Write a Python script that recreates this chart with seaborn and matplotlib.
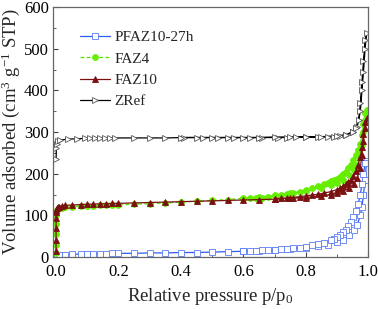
#!/usr/bin/env python3
import numpy as np
import pandas as pd
import seaborn as sns
import matplotlib
matplotlib.use("Agg")
import matplotlib.pyplot as plt
from matplotlib.ticker import MultipleLocator

########################################################## data ##########################################################
samples = ["PFAZ10-27h", "FAZ4", "FAZ10", "ZRef"]

# PFAZ10-27h
pf_ads_p = [0.003, 0.01, 0.03, 0.05, 0.08, 0.1, 0.12, 0.14, 0.16, 0.18, 0.2, 0.25, 0.3, 0.35, 0.4, 0.45, 0.5, 0.55,
            0.6, 0.65, 0.7, 0.75, 0.8, 0.84, 0.87, 0.9, 0.92, 0.94, 0.955, 0.965, 0.975, 0.98, 0.985, 0.99, 0.995]
pf_ads_v = [5, 6, 6, 7, 7, 8, 8, 8, 8, 9, 9, 9, 10, 10, 11, 11, 12, 13,
            14, 15, 17, 19, 22, 26, 30, 36, 42, 52, 64, 78, 100, 120, 150, 185, 230]
pf_des_p = [0.99, 0.985, 0.98, 0.975, 0.968, 0.96, 0.952, 0.944, 0.936, 0.928, 0.92, 0.91, 0.9, 0.89, 0.88,
            0.86, 0.84, 0.82, 0.8, 0.78, 0.76, 0.74, 0.72, 0.7, 0.68, 0.66, 0.64, 0.62, 0.6]
pf_des_v = [225, 200, 175, 150, 128, 110, 96, 84, 74, 66, 60, 53, 48, 44, 40,
            35, 31, 28, 25, 23, 21, 20, 19, 18, 17, 16, 15, 15, 14]

# FAZ4
f4_ads_p = [0.00001, 0.00005, 0.0001, 0.0003, 0.0006, 0.001, 0.002, 0.005, 0.01, 0.02, 0.03, 0.05, 0.08, 0.1, 0.12,
            0.14, 0.16, 0.18, 0.2, 0.25, 0.3, 0.35, 0.4, 0.45, 0.5, 0.55, 0.6, 0.65, 0.7, 0.75, 0.8, 0.85, 0.88,
            0.9, 0.92, 0.94, 0.955, 0.965, 0.975, 0.98, 0.985, 0.99, 0.995]
f4_ads_v = [10, 30, 55, 80, 100, 108, 112, 115, 117, 119, 120, 121, 122, 123, 123,
            124, 124, 125, 125, 127, 128, 130, 132, 134, 136, 138, 141, 144, 148, 153, 158, 166, 172,
            178, 186, 196, 208, 222, 245, 270, 300, 330, 352]
f4_des_p = [0.99, 0.985, 0.98, 0.975, 0.968, 0.96, 0.952, 0.944, 0.936, 0.928, 0.92, 0.91, 0.9, 0.89, 0.88,
            0.87, 0.86, 0.84, 0.82, 0.8, 0.78, 0.76, 0.74, 0.72, 0.7, 0.68, 0.66, 0.64, 0.62, 0.6]
f4_des_v = [345, 320, 292, 272, 258, 244, 232, 222, 213, 205, 199, 193, 188, 185, 182,
            178, 175, 170, 165, 161, 157, 154, 151, 149, 147, 145, 143, 142, 141, 140]

# FAZ10
f10_ads_p = f4_ads_p
f10_ads_v = [15, 40, 70, 95, 108, 114, 118, 120, 121, 123, 124, 125, 126, 127, 127,
             128, 128, 129, 129, 130, 131, 132, 133, 134, 135, 136, 137, 138, 139, 141, 143, 147, 150,
             153, 158, 166, 176, 190, 215, 245, 278, 310, 333]
f10_des_p = [0.99, 0.985, 0.98, 0.975, 0.968, 0.96, 0.952, 0.944, 0.936, 0.928, 0.92, 0.91, 0.9, 0.88, 0.86,
             0.84, 0.82, 0.8, 0.78, 0.76, 0.74, 0.72, 0.7]
f10_des_v = [325, 295, 265, 240, 222, 206, 194, 186, 180, 175, 171, 166, 162, 157, 154,
             151, 149, 147, 145, 143, 142, 141, 140]

# ZRef
zr_ads_p = [0.0002, 0.001, 0.003, 0.006, 0.013, 0.038, 0.067, 0.093, 0.109, 0.125, 0.141, 0.157, 0.173, 0.189,
            0.25, 0.3, 0.35, 0.41, 0.47, 0.52, 0.57, 0.62, 0.66, 0.71, 0.74, 0.77, 0.8, 0.84, 0.87, 0.89, 0.91,
            0.93, 0.95, 0.965, 0.975, 0.98, 0.985, 0.99, 0.995]
zr_ads_v = [236, 262, 272, 278, 281, 283, 284, 285, 285, 285, 286, 286, 286, 286,
            286, 286, 286, 287, 287, 287, 287, 287, 287, 287, 287, 288, 288, 288, 288, 289, 290,
            292, 300, 313, 350, 400, 445, 500, 538]
zr_des_p = [0.99, 0.985, 0.98, 0.975, 0.97, 0.96, 0.95, 0.93, 0.9, 0.85, 0.8, 0.75, 0.7, 0.65, 0.6, 0.55, 0.5,
            0.45, 0.4]
zr_des_v = [520, 470, 420, 370, 330, 310, 301, 294, 291, 289, 288, 288, 288, 287, 287, 287, 287,
            287, 287]

########################################################## plot ##########################################################
def branch_frame(name, ads_p, ads_v, des_p, des_v):
	return pd.DataFrame({"sample": name,
		"p": list(ads_p) + list(des_p),
		"V": list(ads_v) + list(des_v)})

df = pd.concat([
	branch_frame("PFAZ10-27h", pf_ads_p, pf_ads_v, pf_des_p, pf_des_v),
	branch_frame("FAZ4", f4_ads_p, f4_ads_v, f4_des_p, f4_des_v),
	branch_frame("FAZ10", f10_ads_p, f10_ads_v, f10_des_p, f10_des_v),
	branch_frame("ZRef", zr_ads_p, zr_ads_v, zr_des_p, zr_des_v),
], ignore_index=True)

styles = {
	"PFAZ10-27h": dict(color="#2f5cf0", marker="s", mfc="white", mec="#5b7cf5", ls="-"),
	"FAZ4": dict(color="#55e000", marker="o", mfc="#66ee00", mec="#66ee00", ls=(0, (3, 2))),
	"FAZ10": dict(color="#7a1010", marker="^", mfc="#7a1010", mec="#7a1010", ls="-"),
	"ZRef": dict(color="black", marker=">", mfc="white", mec="#555555", ls="-"),
}

sns.set_style("ticks")
plt.rcParams["font.family"] = ["Liberation Serif", "DejaVu Serif"]
plt.rcParams["mathtext.fontset"] = "custom"
plt.rcParams["mathtext.rm"] = "Liberation Serif"
plt.rcParams["mathtext.it"] = "Liberation Serif:italic"

fig = plt.figure(figsize=(3.78, 3.09), dpi=100)
ax = fig.add_axes([0.140, 0.168, 0.834, 0.809])

for name in samples:
	st = styles[name]
	sub = df[df["sample"] == name]
	sns.lineplot(data=sub, x="p", y="V", ax=ax, sort=False, estimator=None,
		color=st["color"], linestyle=st["ls"], linewidth=0.9,
		marker=st["marker"], markersize=4.2, markerfacecolor=st["mfc"],
		markeredgecolor=st["mec"], markeredgewidth=0.6, label=name)

ax.set_xlim(-0.01, 1.0)
ax.set_ylim(0, 600)
ax.xaxis.set_major_locator(MultipleLocator(0.2))
ax.xaxis.set_minor_locator(MultipleLocator(0.1))
ax.yaxis.set_major_locator(MultipleLocator(100))
ax.yaxis.set_minor_locator(MultipleLocator(50))
ax.xaxis.set_major_formatter(matplotlib.ticker.FormatStrFormatter("%.1f"))
ax.tick_params(which="both", direction="in", labelsize=12, colors="#444444", labelcolor="black")
ax.tick_params(axis="x", pad=5)
ax.tick_params(axis="y", pad=3)
ax.tick_params(which="major", length=3.5)
ax.tick_params(which="minor", length=2)
for sp in ax.spines.values():
	sp.set_color("#666666")
	sp.set_linewidth(0.9)

ax.set_xlabel("Relative pressure p/p$_0$", fontsize=13.5, labelpad=4)
ax.set_ylabel("Volume adsorbed (cm$^3$ g$^{-1}$ STP)", fontsize=13.5, labelpad=1)

leg = ax.legend(loc="upper left", bbox_to_anchor=(0.065, 0.93), frameon=False, fontsize=11,
	handlelength=2.0, handletextpad=0.3, labelspacing=0.5, borderaxespad=0)

fig.savefig("out.png", dpi=100)
plt.close(fig)
